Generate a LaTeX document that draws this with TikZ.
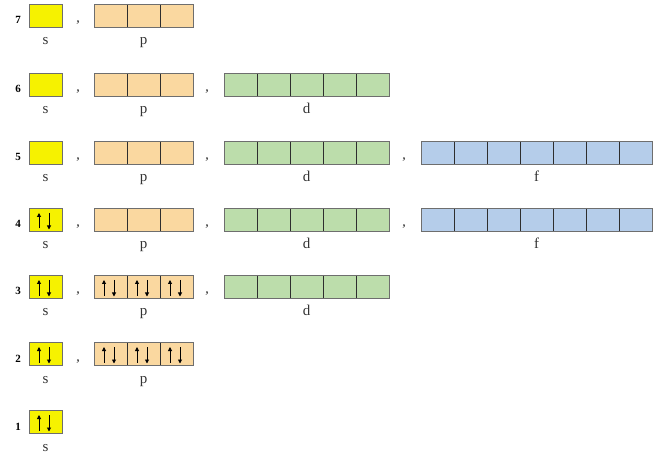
\documentclass[tikz,border=0pt]{standalone}
\usepackage{fontspec}
\setmainfont{Liberation Serif}
\usetikzlibrary{arrows.meta}
\definecolor{sY}{HTML}{F6F200}
\definecolor{pO}{HTML}{FAD8A0}
\definecolor{dG}{HTML}{BCDDAB}
\definecolor{fB}{HTML}{B5CDEA}
\definecolor{edge}{HTML}{6E6E6E}
\definecolor{divd}{HTML}{2E2E2E}
\tikzset{
  cell/.style={rectangle, draw=edge, line width=0.6bp, minimum width=33bp, minimum height=23.5bp, inner sep=0pt, outer sep=0pt, anchor=north west},
  lbl/.style={font=\fontsize{15bp}{17bp}\selectfont, anchor=base, inner sep=0pt, text=black!80},
  num/.style={font=\bfseries\fontsize{11bp}{13bp}\selectfont, anchor=base, inner sep=0pt},
  comma/.style={font=\bfseries\fontsize{12bp}{14bp}\selectfont, anchor=base, inner sep=0pt, text=black!70},
  spin/.style={line width=0.9bp, -{Triangle[length=4bp,width=4bp]}},
  divider/.style={draw=divd, line width=0.8bp}
}
% \subsh{id}{x}{top}{n}{color}{label}{filled 0/1}
\newcommand\subsh[7]{%
  \foreach \k in {1,...,#4}{%
    \node[cell, fill=#5] (#1-\k) at ({#2+33*(\k-1)},#3) {};
    \ifnum#7=1
      \draw[spin] ([xshift=-6.5bp,yshift=3bp]#1-\k.south) -- ([xshift=-6.5bp,yshift=-5bp]#1-\k.north);
      \draw[spin] ([xshift=3.5bp,yshift=-5bp]#1-\k.north) -- ([xshift=3.5bp,yshift=2bp]#1-\k.south);
    \fi
  }%
  \foreach \k in {2,...,#4}{%
    \ifnum#4>1 \draw[divider] (#1-\k.north west) -- (#1-\k.south west);\fi
  }%
  \draw[edge, line width=0.6bp] (#1-1.north west) rectangle (#1-#4.south east);
  \node[lbl] (#1-lab) at ({#2+16.5*#4},{#3+41}) {#6};
}
\begin{document}
\begin{tikzpicture}[x=1bp,y=-1bp]
\useasboundingbox (0,0) rectangle (661,466);
% row tops: 4,73,141,208,275,342,410
\foreach \r/\t/\e in {7/4/0,6/73/0,5/141/0,4/208/1,3/275/1,2/342/1,1/410/1}{
  \node[num] (n\r) at (18,{\t+20}) {\r};
  \subsh{s\r}{29}{\t}{1}{sY}{s}{\e}
}
\foreach \r/\t/\e in {7/4/0,6/73/0,5/141/0,4/208/0,3/275/1,2/342/1}{
  \node[comma] (c\r a) at (78,{\t+19}) {,};
  \subsh{p\r}{94}{\t}{3}{pO}{p}{\e}
}
\foreach \r/\t in {6/73,5/141,4/208,3/275}{
  \node[comma] (c\r b) at (207,{\t+19}) {,};
  \subsh{d\r}{224}{\t}{5}{dG}{d}{0}
}
\foreach \r/\t in {5/141,4/208}{
  \node[comma] (c\r c) at (404,{\t+19}) {,};
  \subsh{f\r}{421}{\t}{7}{fB}{f}{0}
}
\end{tikzpicture}
\end{document}
